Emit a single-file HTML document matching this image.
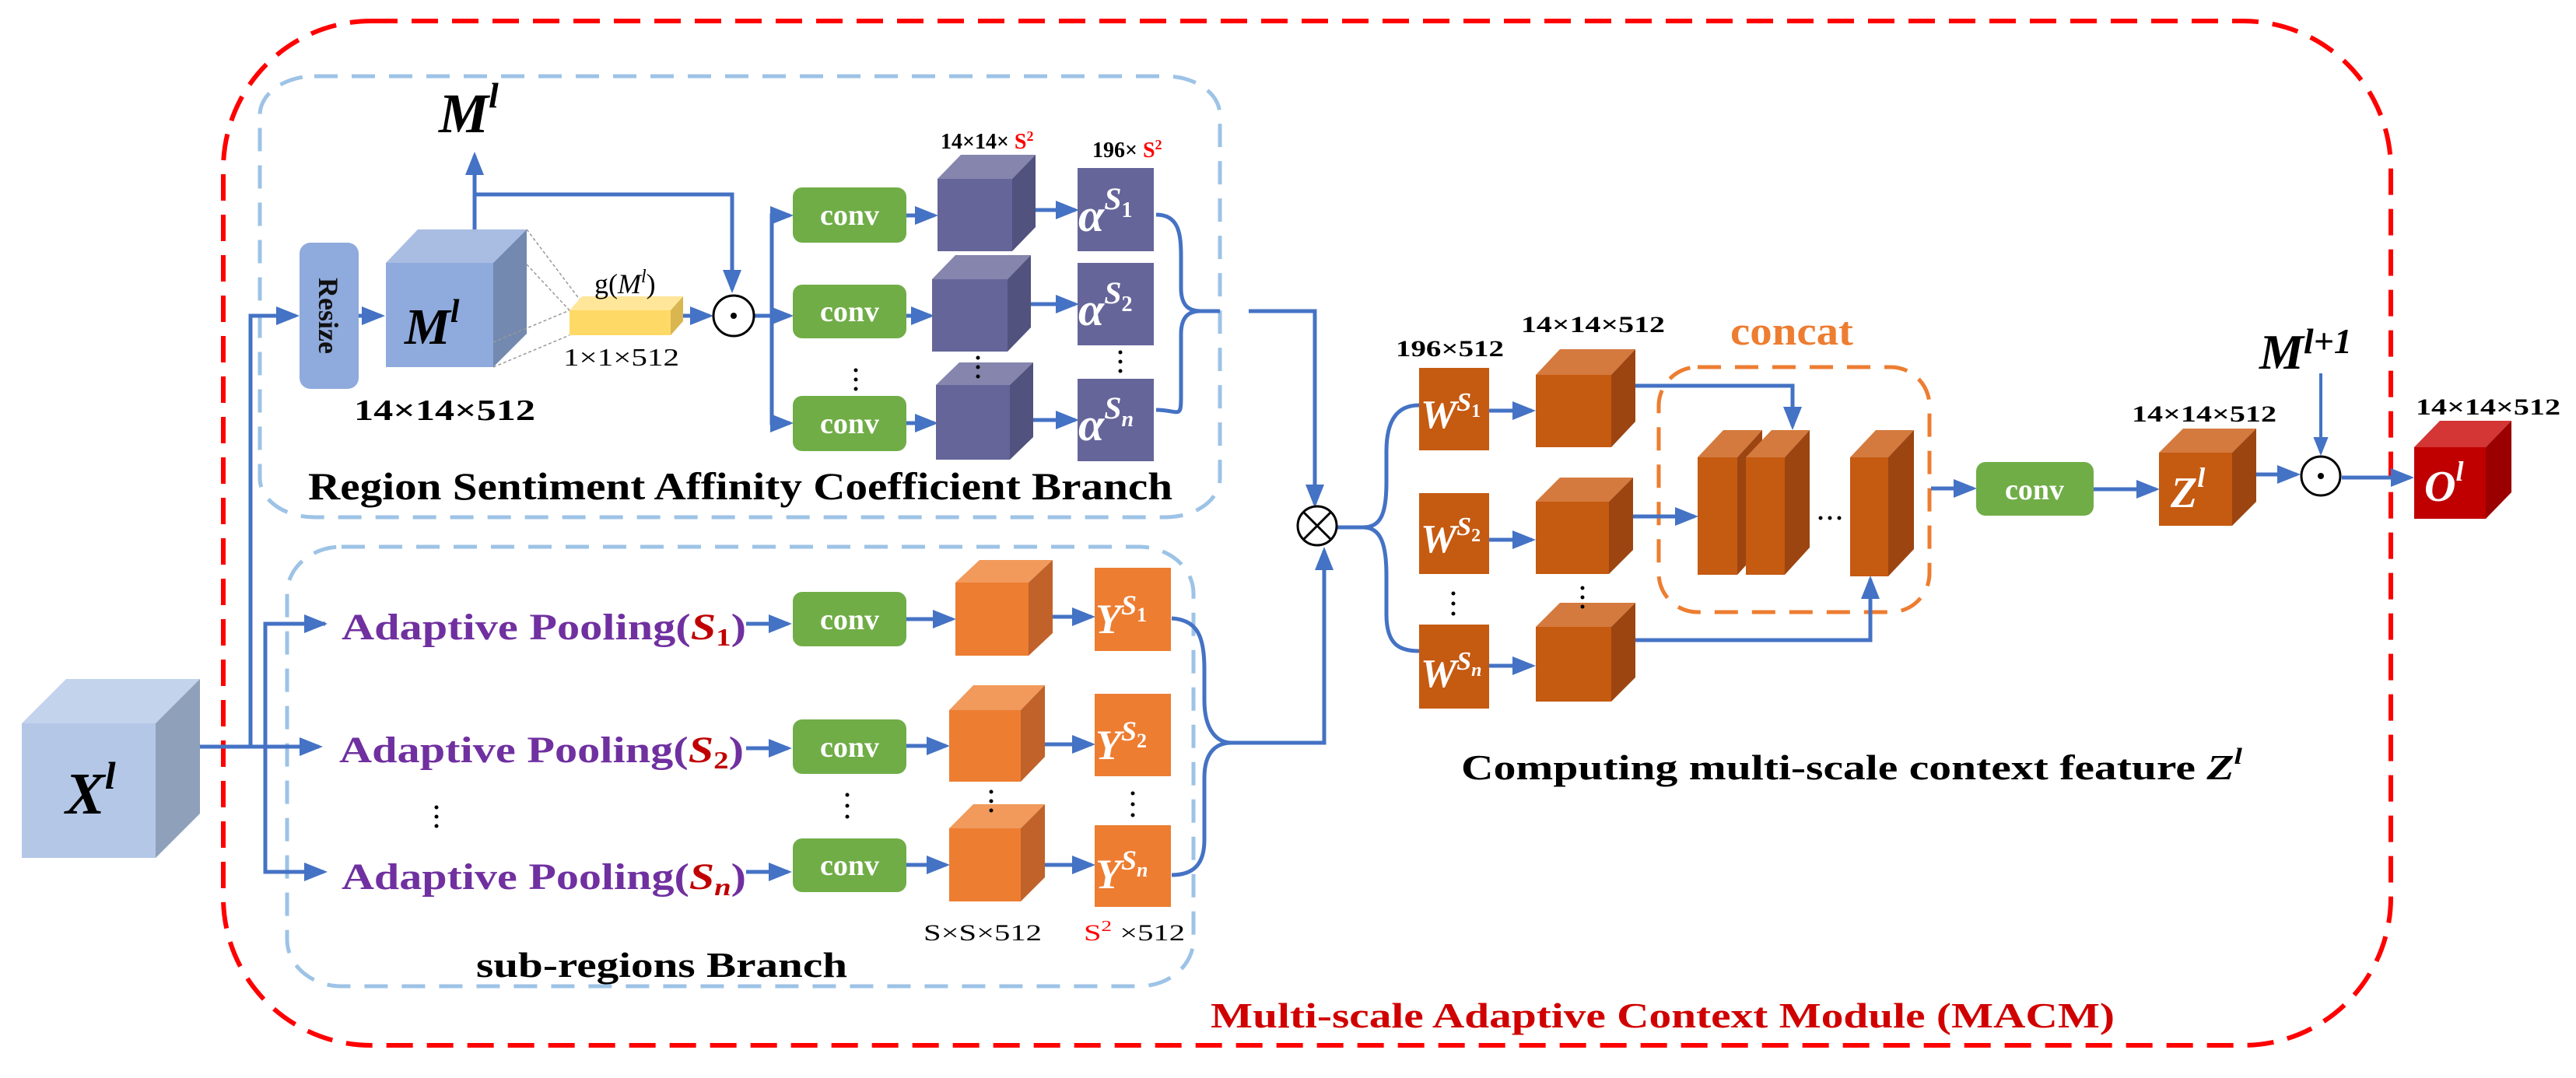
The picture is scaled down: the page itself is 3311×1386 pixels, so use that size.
<!DOCTYPE html>
<html><head><meta charset="utf-8"><style>
html,body{margin:0;padding:0;background:#fff;}
svg{display:block;}
text{font-family:"Liberation Serif",serif;font-weight:bold;}
.n{font-weight:normal;}
</style></head><body>
<svg width="3311" height="1386" viewBox="0 0 3311 1386" xmlns="http://www.w3.org/2000/svg">
<defs>
<marker id="ar" markerWidth="6" markerHeight="6" refX="5" refY="3" orient="auto" markerUnits="strokeWidth">
<path d="M0,0.6 L6,3 L0,5.4 Z" fill="#4472c4"/></marker>
</defs>
<rect x="287" y="27" width="2786" height="1317" rx="190" ry="190" fill="none" stroke="#ff0000" stroke-width="6" stroke-dasharray="34,18"/>
<rect x="334" y="98" width="1234" height="567" rx="70" ry="50" fill="none" stroke="#9dc3e6" stroke-width="5" stroke-dasharray="30,18"/>
<rect x="369" y="703" width="1165" height="565" rx="70" ry="60" fill="none" stroke="#9dc3e6" stroke-width="5" stroke-dasharray="30,18"/>
<rect x="2132" y="472" width="348" height="315" rx="50" ry="50" fill="none" stroke="#ed7d31" stroke-width="5" stroke-dasharray="30,18"/>

<g stroke="#4472c4" stroke-width="5" fill="none">
<line x1="200" y1="960" x2="410" y2="960" marker-end="url(#ar)"/>
<polyline points="322,960 322,406 380,406" marker-end="url(#ar)"/>
<polyline points="418,802 341,802 341,1121 416,1121" />
<line x1="341" y1="802" x2="416" y2="802" marker-end="url(#ar)"/>
<line x1="341" y1="1121" x2="416" y2="1121" marker-end="url(#ar)"/>
<line x1="461" y1="406" x2="490" y2="406" marker-end="url(#ar)"/>
<line x1="610" y1="295" x2="610" y2="200" marker-end="url(#ar)"/>
<polyline points="610,250 941,250 941,372" marker-end="url(#ar)"/>
<line x1="878" y1="406" x2="912" y2="406" marker-end="url(#ar)"/>
<line x1="970" y1="406" x2="992" y2="406"/>
<polyline points="1013,277 992,277 992,544 1013,544"/>
<line x1="992" y1="277" x2="1015" y2="277" marker-end="url(#ar)"/>
<line x1="992" y1="406" x2="1015" y2="406" marker-end="url(#ar)"/>
<line x1="992" y1="544" x2="1015" y2="544" marker-end="url(#ar)"/>
<line x1="1165" y1="277" x2="1201" y2="277" marker-end="url(#ar)"/>
<line x1="1165" y1="406" x2="1196" y2="406" marker-end="url(#ar)"/>
<line x1="1165" y1="544" x2="1201" y2="544" marker-end="url(#ar)"/>
<line x1="1312" y1="270" x2="1382" y2="270" marker-end="url(#ar)"/>
<line x1="1312" y1="391" x2="1382" y2="391" marker-end="url(#ar)"/>
<line x1="1312" y1="540" x2="1382" y2="540" marker-end="url(#ar)"/>
<path d="M1486,276 C1515,276 1518,300 1518,330 L1518,370 C1518,395 1530,400 1543,400 C1530,400 1518,405 1518,430 L1518,510 C1518,540 1515,527 1486,527"/>
<line x1="1543" y1="400" x2="1568" y2="400"/>
<polyline points="1605,400 1690,400 1690,648" marker-end="url(#ar)"/>
<line x1="959" y1="802" x2="1013" y2="802" marker-end="url(#ar)"/>
<line x1="959" y1="962" x2="1013" y2="962" marker-end="url(#ar)"/>
<line x1="959" y1="1121" x2="1013" y2="1121" marker-end="url(#ar)"/>
<line x1="1165" y1="796" x2="1224" y2="796" marker-end="url(#ar)"/>
<line x1="1165" y1="959" x2="1216" y2="959" marker-end="url(#ar)"/>
<line x1="1165" y1="1112" x2="1216" y2="1112" marker-end="url(#ar)"/>
<line x1="1353" y1="793" x2="1403" y2="793" marker-end="url(#ar)"/>
<line x1="1343" y1="957" x2="1403" y2="957" marker-end="url(#ar)"/>
<line x1="1343" y1="1112" x2="1403" y2="1112" marker-end="url(#ar)"/>
<path d="M1506,795 C1540,797 1548,820 1548,860 L1548,900 C1548,940 1565,955 1583,955 C1565,955 1548,965 1548,1000 L1548,1080 C1548,1110 1535,1125 1506,1125"/>
<polyline points="1583,955 1702,955 1702,708" marker-end="url(#ar)"/>
<path d="M1718,678 L1752,678 C1775,678 1782,660 1782,620 L1782,580 C1782,535 1800,521 1824,521"/>
<path d="M1752,678 C1775,678 1782,700 1782,740 L1782,790 C1782,830 1800,837 1824,837"/>
<line x1="1914" y1="528" x2="1969" y2="528" marker-end="url(#ar)"/>
<line x1="1914" y1="694" x2="1969" y2="694" marker-end="url(#ar)"/>
<line x1="1914" y1="856" x2="1969" y2="856" marker-end="url(#ar)"/>
<polyline points="2102,496 2304,496 2304,548" marker-end="url(#ar)"/>
<line x1="2096" y1="664" x2="2178" y2="664" marker-end="url(#ar)"/>
<polyline points="2102,823 2404,823 2404,745" marker-end="url(#ar)"/>
<line x1="2482" y1="628" x2="2536" y2="628" marker-end="url(#ar)"/>
<line x1="2691" y1="629" x2="2771" y2="629" marker-end="url(#ar)"/>
<line x1="2900" y1="610" x2="2952" y2="610" marker-end="url(#ar)"/>
<line x1="2983" y1="480" x2="2983" y2="582" marker-end="url(#ar)" stroke-width="4"/>
<line x1="3010" y1="614" x2="3098" y2="614" marker-end="url(#ar)"/>
</g>

<rect x="385" y="312" width="76" height="188" rx="14" fill="#8faadc"/>
<text transform="translate(410,406) rotate(90)" text-anchor="middle" font-size="36" fill="#111">Resize</text>

<g>
<polygon points="28,930 85,873 257,873 200,930" fill="#c3d3ec"/>
<polygon points="200,930 257,873 257,1046 200,1103" fill="#8fa0bb"/>
<rect x="28" y="930" width="172" height="173" fill="#b4c7e7"/>
<polygon points="496,338 537,295 677,295 634,338" fill="#a9bde3"/>
<polygon points="634,338 677,295 677,429 634,472" fill="#7389b0"/>
<rect x="496" y="338" width="138" height="134" fill="#8faadc"/>
<g stroke="#999" stroke-width="1.5" stroke-dasharray="4,3"><line x1="677" y1="295" x2="745" y2="385"/><line x1="634" y1="440" x2="732" y2="399"/><line x1="634" y1="472" x2="732" y2="431"/><line x1="677" y1="340" x2="732" y2="399"/></g>
<polygon points="732,399 748,381 878,381 862,399" fill="#ffe699"/>
<polygon points="862,399 878,381 878,413 862,431" fill="#d9b650"/>
<rect x="732" y="399" width="130" height="32" fill="#ffd966"/>
<polygon points="1205,230 1235,199 1331,199 1301,230" fill="#8585ad"/><polygon points="1301,230 1331,199 1331,292 1301,323" fill="#52527e"/><rect x="1205" y="230" width="96" height="93" fill="#65659a"/>
<polygon points="1198,359 1228,328 1325,328 1295,359" fill="#8585ad"/><polygon points="1295,359 1325,328 1325,421 1295,452" fill="#52527e"/><rect x="1198" y="359" width="97" height="93" fill="#65659a"/>
<polygon points="1203,495 1233,466 1328,466 1298,495" fill="#8585ad"/><polygon points="1298,495 1328,466 1328,562 1298,591" fill="#52527e"/><rect x="1203" y="495" width="95" height="96" fill="#65659a"/>
<polygon points="1228,749 1259,720 1353,720 1322,749" fill="#f19a5c"/><polygon points="1322,749 1353,720 1353,814 1322,843" fill="#c0622a"/><rect x="1228" y="749" width="94" height="94" fill="#ed7d31"/>
<polygon points="1220,913 1251,881 1343,881 1312,913" fill="#f19a5c"/><polygon points="1312,913 1343,881 1343,973 1312,1005" fill="#c0622a"/><rect x="1220" y="913" width="92" height="92" fill="#ed7d31"/>
<polygon points="1220,1065 1251,1034 1343,1034 1312,1065" fill="#f19a5c"/><polygon points="1312,1065 1343,1034 1343,1128 1312,1159" fill="#c0622a"/><rect x="1220" y="1065" width="92" height="94" fill="#ed7d31"/>
<polygon points="1974,482 2005,449 2102,449 2071,482" fill="#d47a3e"/><polygon points="2071,482 2102,449 2102,542 2071,575" fill="#9c4510"/><rect x="1974" y="482" width="97" height="93" fill="#c55a11"/>
<polygon points="1974,645 2005,614 2099,614 2068,645" fill="#d47a3e"/><polygon points="2068,645 2099,614 2099,707 2068,738" fill="#9c4510"/><rect x="1974" y="645" width="94" height="93" fill="#c55a11"/>
<polygon points="1974,806 2005,775 2102,775 2071,806" fill="#d47a3e"/><polygon points="2071,806 2102,775 2102,871 2071,902" fill="#9c4510"/><rect x="1974" y="806" width="97" height="96" fill="#c55a11"/>
<polygon points="2182,588 2215,553 2265,553 2233,588" fill="#d47a3e"/><polygon points="2233,588 2265,553 2265,704 2233,739" fill="#9c4510"/><rect x="2182" y="588" width="51" height="151" fill="#c55a11"/>
<polygon points="2244,588 2277,553 2326,553 2294,588" fill="#d47a3e"/><polygon points="2294,588 2326,553 2326,704 2294,739" fill="#9c4510"/><rect x="2244" y="588" width="50" height="151" fill="#c55a11"/>
<polygon points="2378,588 2411,553 2460,553 2427,588" fill="#d47a3e"/><polygon points="2427,588 2460,553 2460,706 2427,741" fill="#9c4510"/><rect x="2378" y="588" width="49" height="153" fill="#c55a11"/>
<polygon points="2775,582 2806,551 2900,551 2869,582" fill="#d47a3e"/><polygon points="2869,582 2900,551 2900,645 2869,676" fill="#9c4510"/><rect x="2775" y="582" width="94" height="94" fill="#c55a11"/>
<polygon points="3103,575 3136,541 3228,541 3195,575" fill="#d43535"/><polygon points="3195,575 3228,541 3228,633 3195,667" fill="#9a0000"/><rect x="3103" y="575" width="92" height="92" fill="#c00000"/>
</g>

<g fill="#65659a"><rect x="1385" y="216" width="98" height="107"/><rect x="1385" y="338" width="98" height="106"/><rect x="1385" y="487" width="98" height="106"/></g>
<g fill="#ed7d31"><rect x="1407" y="730" width="98" height="107"/><rect x="1407" y="892" width="98" height="106"/><rect x="1407" y="1061" width="98" height="105"/></g>
<g fill="#c55a11"><rect x="1824" y="473" width="90" height="106"/><rect x="1824" y="634" width="90" height="104"/><rect x="1824" y="803" width="90" height="108"/></g>
<g fill="#70ad47"><rect x="1019" y="241" width="146" height="71" rx="12"/><rect x="1019" y="366" width="146" height="69" rx="12"/><rect x="1019" y="509" width="146" height="71" rx="12"/>
<rect x="1019" y="761" width="146" height="70" rx="12"/><rect x="1019" y="925" width="146" height="70" rx="12"/><rect x="1019" y="1078" width="146" height="69" rx="12"/>
<rect x="2540" y="594" width="151" height="69" rx="12"/></g>
<g fill="#fff" font-size="38" text-anchor="middle">
<text x="1092" y="289">conv</text><text x="1092" y="413">conv</text><text x="1092" y="557">conv</text>
<text x="1092" y="809">conv</text><text x="1092" y="973">conv</text><text x="1092" y="1125">conv</text>
<text x="2615" y="642">conv</text></g>

<g fill="none" stroke="#000" stroke-width="3">
<circle cx="943" cy="406" r="26"/><circle cx="2983" cy="612" r="25"/>
<circle cx="1693" cy="676" r="25"/>
<line x1="1675" y1="658" x2="1711" y2="694"/><line x1="1711" y1="658" x2="1675" y2="694"/>
</g>
<circle cx="943" cy="406" r="4"/><circle cx="2983" cy="612" r="4"/>

<g fill="#000">
<circle cx="1100" cy="476" r="2.5"/><circle cx="1100" cy="488" r="2.5"/><circle cx="1100" cy="500" r="2.5"/>
<circle cx="1257" cy="460" r="2.5"/><circle cx="1257" cy="472" r="2.5"/><circle cx="1257" cy="484" r="2.5"/>
<circle cx="1440" cy="453" r="2.5"/><circle cx="1440" cy="465" r="2.5"/><circle cx="1440" cy="477" r="2.5"/>
<circle cx="561" cy="1038" r="2.5"/><circle cx="561" cy="1050" r="2.5"/><circle cx="561" cy="1062" r="2.5"/>
<circle cx="1089" cy="1022" r="2.5"/><circle cx="1089" cy="1036" r="2.5"/><circle cx="1089" cy="1050" r="2.5"/>
<circle cx="1274" cy="1018" r="2.5"/><circle cx="1274" cy="1030" r="2.5"/><circle cx="1274" cy="1042" r="2.5"/>
<circle cx="1456" cy="1020" r="2.5"/><circle cx="1456" cy="1034" r="2.5"/><circle cx="1456" cy="1048" r="2.5"/>
<circle cx="1868" cy="763" r="2.5"/><circle cx="1868" cy="776" r="2.5"/><circle cx="1868" cy="789" r="2.5"/>
<circle cx="2034" cy="756" r="2.5"/><circle cx="2034" cy="768" r="2.5"/><circle cx="2034" cy="780" r="2.5"/>
<circle cx="2340" cy="666" r="2.5"/><circle cx="2352" cy="666" r="2.5"/><circle cx="2364" cy="666" r="2.5"/>
</g>

<text x="564" y="170" font-size="72" font-style="italic">M<tspan font-size="46" dy="-32">l</tspan></text>
<text x="520" y="442" font-size="66" font-style="italic">M<tspan font-size="42" dy="-28">l</tspan></text>
<text x="84" y="1046" font-size="76" font-style="italic">X<tspan font-size="50" dy="-32">l</tspan></text>
<text x="764" y="377" font-size="36" class="n">g(<tspan font-style="italic">M</tspan><tspan font-size="24" dy="-14" font-style="italic">l</tspan><tspan dy="14">)</tspan></text>
<text x="724" y="470" font-size="32" class="n" textLength="149" lengthAdjust="spacingAndGlyphs">1×1×512</text>
<text x="455" y="540" font-size="38" textLength="233" lengthAdjust="spacingAndGlyphs">14×14×512</text>
<text x="1209" y="191" font-size="28">14×14× <tspan fill="#ff0000">S<tspan font-size="18" dy="-10">2</tspan></tspan></text>
<text x="1404" y="202" font-size="28">196× <tspan fill="#ff0000">S<tspan font-size="18" dy="-10">2</tspan></tspan></text>
<text x="396" y="642" font-size="50" textLength="1111" lengthAdjust="spacingAndGlyphs">Region Sentiment Affinity Coefficient Branch</text>

<g fill="#fff" font-style="italic">
<text x="1386" y="297" font-size="60">α<tspan font-size="40" dy="-28">S</tspan><tspan font-size="28" dy="10" font-style="normal">1</tspan></text>
<text x="1386" y="418" font-size="60">α<tspan font-size="40" dy="-28">S</tspan><tspan font-size="28" dy="10" font-style="normal">2</tspan></text>
<text x="1386" y="566" font-size="60">α<tspan font-size="40" dy="-28">S</tspan><tspan font-size="28" dy="10">n</tspan></text>
<text x="1408" y="814" font-size="54">Y<tspan font-size="36" dy="-24">S</tspan><tspan font-size="26" dy="9" font-style="normal">1</tspan></text>
<text x="1408" y="976" font-size="54">Y<tspan font-size="36" dy="-24">S</tspan><tspan font-size="26" dy="9" font-style="normal">2</tspan></text>
<text x="1408" y="1142" font-size="54">Y<tspan font-size="36" dy="-24">S</tspan><tspan font-size="26" dy="9">n</tspan></text>
<text x="1826" y="550" font-size="52">W<tspan font-size="34" dy="-22">S</tspan><tspan font-size="24" dy="8" font-style="normal">1</tspan></text>
<text x="1826" y="710" font-size="52">W<tspan font-size="34" dy="-22">S</tspan><tspan font-size="24" dy="8" font-style="normal">2</tspan></text>
<text x="1826" y="883" font-size="52">W<tspan font-size="34" dy="-22">S</tspan><tspan font-size="24" dy="8">n</tspan></text>
<text x="2790" y="652" font-size="56">Z<tspan font-size="36" dy="-26">l</tspan></text>
<text x="3116" y="644" font-size="56">O<tspan font-size="36" dy="-26">l</tspan></text>
</g>

<g font-size="48" fill="#7030a0">
<text x="439" y="822" textLength="520" lengthAdjust="spacingAndGlyphs">Adaptive Pooling(<tspan fill="#c00000" font-style="italic">S</tspan><tspan fill="#c00000" font-size="32" dy="8">1</tspan><tspan dy="-8">)</tspan></text>
<text x="436" y="980" textLength="520" lengthAdjust="spacingAndGlyphs">Adaptive Pooling(<tspan fill="#c00000" font-style="italic">S</tspan><tspan fill="#c00000" font-size="32" dy="8">2</tspan><tspan dy="-8">)</tspan></text>
<text x="439" y="1143" textLength="520" lengthAdjust="spacingAndGlyphs">Adaptive Pooling(<tspan fill="#c00000" font-style="italic">S</tspan><tspan fill="#c00000" font-size="32" dy="8" font-style="italic">n</tspan><tspan dy="-8">)</tspan></text>
</g>
<text x="1187" y="1209" font-size="30" class="n" textLength="152" lengthAdjust="spacingAndGlyphs">S×S×512</text>
<text x="1393" y="1209" font-size="30" class="n" textLength="130" lengthAdjust="spacingAndGlyphs"><tspan fill="#ff0000">S<tspan font-size="20" dy="-12">2</tspan></tspan><tspan dy="12"> ×512</tspan></text>
<text x="612" y="1256" font-size="46" textLength="477" lengthAdjust="spacingAndGlyphs">sub-regions Branch</text>

<text x="1794" y="458" font-size="30" textLength="139" lengthAdjust="spacingAndGlyphs">196×512</text>
<text x="1955" y="427" font-size="30" textLength="185" lengthAdjust="spacingAndGlyphs">14×14×512</text>
<text x="2224" y="443" font-size="52" fill="#ed7d31" textLength="158" lengthAdjust="spacingAndGlyphs">concat</text>
<text x="2740" y="542" font-size="30" textLength="186" lengthAdjust="spacingAndGlyphs">14×14×512</text>
<text x="3105" y="533" font-size="30" textLength="186" lengthAdjust="spacingAndGlyphs">14×14×512</text>
<text x="2904" y="474" font-size="64" font-style="italic">M<tspan font-size="46" dy="-20">l+1</tspan></text>
<text x="1878" y="1002" font-size="46" textLength="1004" lengthAdjust="spacingAndGlyphs">Computing multi-scale context feature <tspan font-style="italic">Z</tspan><tspan font-size="30" dy="-20" font-style="italic">l</tspan></text>
<text x="1556" y="1321" font-size="46" fill="#d00000" textLength="1162" lengthAdjust="spacingAndGlyphs">Multi-scale Adaptive Context Module (MACM)</text>
</svg>
</body></html>
